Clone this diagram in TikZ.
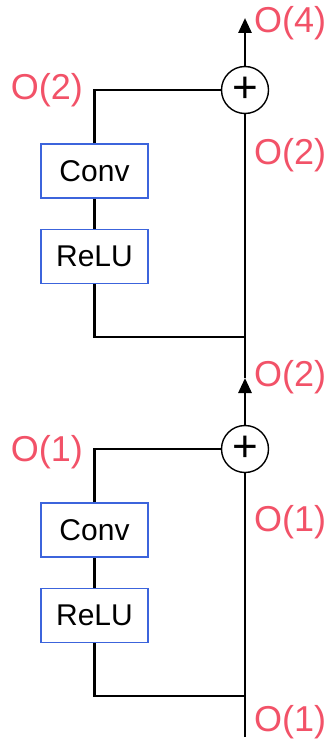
\documentclass[tikz,border=0pt]{standalone}
\usepackage{fontspec}
\setmainfont{Liberation Sans}
\usetikzlibrary{arrows.meta,positioning}
\definecolor{sizered}{RGB}{242,82,104}
\definecolor{boxblue}{RGB}{60,100,220}

\begin{document}
\begin{tikzpicture}[
  x=1pt, y=1pt,
  node distance=30pt,
  layer/.style={rectangle, draw=boxblue, line width=1.2pt, minimum width=107pt, minimum height=54pt, inner sep=0pt, font=\fontsize{30}{32}\selectfont},
  adder/.style={circle, draw, line width=1.4pt, minimum size=47pt, inner sep=0pt, font=\fontsize{44}{46}\selectfont},
  size/.style={text=sizered, inner sep=0pt, font=\fontsize{36}{38}\selectfont},
  wire/.style={line width=2.8pt},
  arr/.style={wire, -{Triangle[length=15pt, width=13pt]}}
]
  \useasboundingbox (0,0) rectangle (330,-741);

  % --- 1. LOWER BLOCK ---
  \coordinate (in) at (245,-737);
  \coordinate (tap1) at (245,-696);
  \node[adder] (add1) at (245,-449) {+};
  \node[layer] (conv1) at (94.5,-530) {Conv};
  \node[layer, below=of conv1] (relu1) {ReLU};
  \coordinate (mid) at (245,-378);

  % --- 2. UPPER BLOCK ---
  \coordinate (tap2) at (245,-337);
  \node[adder] (add2) at (245,-90) {+};
  \node[layer] (conv2) at (94.5,-171) {Conv};
  \node[layer, below=of conv2] (relu2) {ReLU};
  \coordinate (out) at (245,-18);

  % Skip path and residual branches
  \draw[wire] (in) -- (add1.south);
  \draw[wire] (tap1) -| (relu1.south);
  \draw[wire] (relu1) -- (conv1);
  \draw[wire] (conv1.north) |- (add1.west);
  \draw[arr] (add1.north) -- (mid);
  \draw[wire] (mid) -- (add2.south);
  \draw[wire] (tap2) -| (relu2.south);
  \draw[wire] (relu2) -- (conv2);
  \draw[wire] (conv2.north) |- (add2.west);
  \draw[arr] (add2.north) -- (out);

  % Sizes
  \node[size, anchor=west] (size4) at (254,-23) {O(4)};
  \node[size, anchor=east] (size2a) at (83,-90) {O(2)};
  \node[size, anchor=west] (size2b) at (254,-155) {O(2)};
  \node[size, anchor=west] (size2c) at (254,-377) {O(2)};
  \node[size, anchor=east] (size1a) at (83,-452) {O(1)};
  \node[size, anchor=west] (size1b) at (254,-522) {O(1)};
  \node[size, anchor=west] (size1c) at (254,-722) {O(1)};
\end{tikzpicture}
\end{document}
